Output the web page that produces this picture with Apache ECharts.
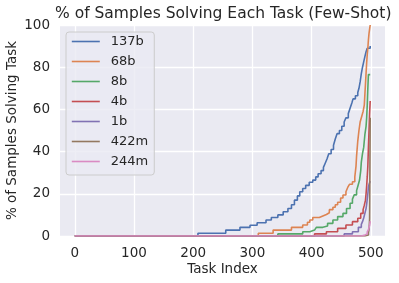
<!DOCTYPE html>
<html><head><meta charset="utf-8">
<script src="https://cdn.jsdelivr.net/npm/echarts@6/dist/echarts.min.js"></script>
<style>html,body{margin:0;padding:0;background:#fff}#c{width:399px;height:283px}</style>
</head><body><div id="c"></div>
<script>
// Series names (legend order)
const names = ['137b', '68b', '8b', '4b', '1b', '422m', '244m'];
// Each series: [task index where level starts, % of samples] (step levels, sorted)
const s137b = [[0,0],[208,1.3],[255,2.8],[279,4.1],[296,5.1],[308,6.3],[323,7.6],[332,8.8],[343,10],[352,11.5],[360,13],[366,14.8],[371,17],[376,19],[380,21],[385,22.5],[390,24],[396,25.5],[402,26.5],[407,28],[411,29.5],[416,31],[420,32.5],[423,34.5],[426,36.5],[429,39],[433,41],[437,43],[440,46],[443,48.5],[447,50],[451,52],[455,54],[458,56],[462,58],[465,60.5],[468,63],[470,65],[474,66.5],[478,68],[480,70],[482,73],[484,77],[486,80],[488,82.5],[490,85],[492,87.3],[494,89],[499,90]];
const s68b = [[0,0],[310,1.3],[335,2.8],[366,4.1],[385,5.2],[393,6.5],[397,7.6],[402,8.8],[413,9.5],[419,10.2],[425,11],[430,12.5],[436,13.6],[440,14.8],[444,16],[449,18],[453,19.4],[458,21],[461,23],[464,24.5],[469,25.7],[473,28],[475,33],[476,38],[478,45],[480,50],[482,54],[485,57],[487,59],[489,62],[490,67],[491,72],[492,77],[493,82],[494,86],[495,89],[496,93],[497,96],[498,98],[499,100]];
const s8b = [[0,0],[343,1],[385,2],[397,2.8],[405,3.5],[408,4.1],[419,4.7],[427,6],[436,7.6],[444,9.2],[453,10.7],[459,13],[465,15.5],[469,17.5],[472,19.5],[476,21.5],[478,23.5],[481,26.5],[483,31],[484,35],[486,39],[488,42],[489,45],[490,48],[492,52],[493,56],[494,62],[495,70],[496,76.5],[499,76.5]];
const s4b = [[0,0],[405,1],[425,2],[444,3.6],[458,5.2],[469,6.8],[478,8.4],[483,10.7],[487,12.5],[489,14.5],[491,17],[492,20],[493,23.5],[494,28],[495,33],[496,42],[497,50],[498,58],[499,64]];
const s1b = [[0,0],[455,1],[469,2],[479,4.1],[484,5.5],[486,6.8],[488,8.5],[490,10.7],[492,13],[493,15],[494,17.5],[495,20],[496,23],[497,24.5],[499,26]];
const s422m = [[0,0],[490,0.5],[496,1.5],[497,3],[498,8],[499,56]];
const s244m = [[0,0],[484,0.5],[490,1],[494,2],[496,3],[497,4],[498,5],[499,7]];
const xTicks = [0, 100, 200, 300, 400, 500];
const yTicks = [0, 20, 40, 60, 80, 100];

const colors = ['#4C72B0', '#DD8452', '#55A868', '#C44E52', '#8172B3', '#937860', '#DA8BC3'];
const allData = [s137b, s68b, s8b, s4b, s1b, s422m, s244m];
const FONT = 'DejaVu Sans';
const TXT = '#262626';

const chart = echarts.init(document.getElementById('c'), null, {renderer: 'canvas'});
chart.setOption({
  animation: false,
  color: colors,
  title: {
    text: '% of Samples Solving Each Task (Few-Shot)',
    left: 50, top: 1,
    textStyle: {fontFamily: FONT, fontSize: 15.5, fontWeight: 'normal', color: TXT}
  },
  grid: {left: 60, right: 14, top: 25, bottom: 47, show: true, backgroundColor: '#EAEAF2', borderWidth: 0,
         containLabel: false, outerBoundsMode: 'none'},
  legend: {
    orient: 'vertical', left: 66, top: 32,
    padding: [3, 6, 7, 5], itemGap: 7, itemWidth: 28, itemHeight: 14,
    backgroundColor: 'rgba(234,234,242,0.8)', borderColor: '#CCCCCC', borderWidth: 1, borderRadius: 3,
    itemStyle: {opacity: 0},
    lineStyle: {width: 1.6},
    textStyle: {fontFamily: FONT, fontSize: 13, color: TXT, padding: [0, 0, 0, 6]},
    data: names
  },
  xAxis: {
    type: 'value', min: -25, max: 524,
    name: 'Task Index', nameLocation: 'middle', nameGap: 26, nameMoveOverlap: false,
    nameTextStyle: {fontFamily: FONT, fontSize: 13.5, color: TXT},
    axisLine: {show: false}, axisTick: {show: false, customValues: xTicks},
    axisLabel: {customValues: xTicks, fontFamily: FONT, fontSize: 13.5, color: TXT, margin: 10},
    splitLine: {show: true, lineStyle: {color: '#FFFFFF', width: 1.3}}
  },
  yAxis: {
    type: 'value', min: 0, max: 100, interval: 20,
    name: '% of Samples Solving Task', nameLocation: 'middle', nameGap: 40.5, nameMoveOverlap: false,
    nameTextStyle: {fontFamily: FONT, fontSize: 13.5, color: TXT},
    axisLine: {show: false}, axisTick: {show: false},
    axisLabel: {fontFamily: FONT, fontSize: 13.5, color: TXT, margin: 10},
    splitLine: {show: true, lineStyle: {color: '#FFFFFF', width: 1.3}}
  },
  series: names.map((n, i) => ({
    name: n, type: 'line', step: 'end', data: allData[i],
    showSymbol: false, symbol: 'none', clip: true,
    lineStyle: {width: 1.6, color: colors[i]}, itemStyle: {color: colors[i]}
  }))
});
</script></body></html>
